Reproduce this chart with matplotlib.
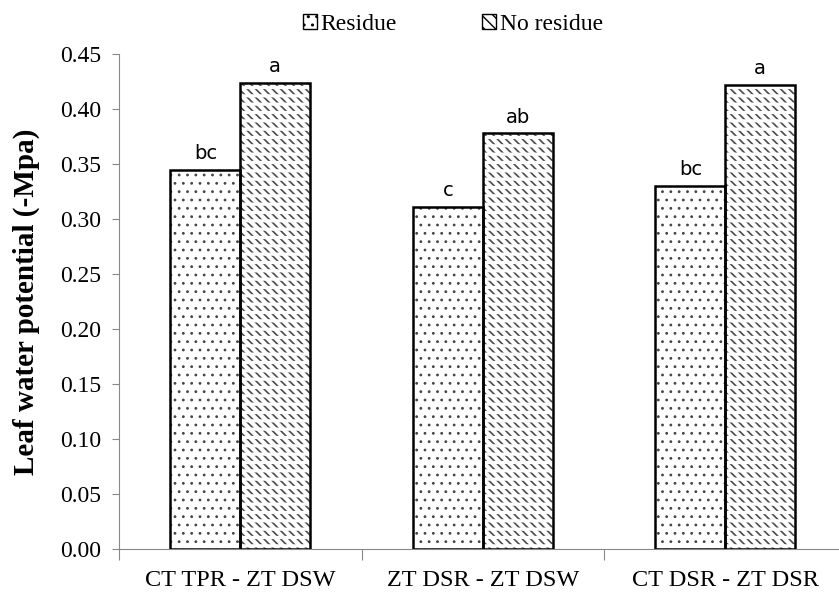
import matplotlib
matplotlib.use("Agg")
import matplotlib.pyplot as plt
import numpy as np
from matplotlib.patches import Patch

categories = ["CT TPR - ZT DSW", "ZT DSR - ZT DSW", "CT DSR - ZT DSR"]
residue = [0.345, 0.311, 0.330]
no_residue = [0.424, 0.378, 0.422]
residue_letters = ["bc", "c", "bc"]
no_residue_letters = ["a", "ab", "a"]
yticks = [0.00, 0.05, 0.10, 0.15, 0.20, 0.25, 0.30, 0.35, 0.40, 0.45]

serif = ["Liberation Serif", "DejaVu Serif"]
sans = ["Liberation Sans Narrow", "DejaVu Sans"]

W, H = 839, 596
fig = plt.figure(figsize=(W / 100, H / 100), dpi=100)
left = 119 / W
right = 846.5 / W
bottom = (H - 549) / H
top = (H - 54.3) / H
ax = fig.add_axes([left, bottom, right - left, top - bottom])

x = np.arange(len(categories))
bw = 0.288


def set_hlw(bars, lw):
    for p in bars:
        if hasattr(p, "set_hatch_linewidth"):
            p.set_hatch_linewidth(lw)


# Residue bars (dotted)
with plt.rc_context({"hatch.linewidth": 0.8}):
    b1 = ax.bar(x - bw / 2, residue, bw, color="white", edgecolor="#444444",
                hatch="..", linewidth=0)
set_hlw(b1, 0.8)
# No residue bars: dense diagonals broken into rows by white horizontal lines
with plt.rc_context({"hatch.linewidth": 1.2}):
    b2 = ax.bar(x + bw / 2, no_residue, bw, color="white", edgecolor="#4a4a4a",
                hatch="\\\\\\\\", linewidth=0)
set_hlw(b2, 1.2)
with plt.rc_context({"hatch.linewidth": 2.3}):
    b3 = ax.bar(x + bw / 2, no_residue, bw, color="none", edgecolor="white",
                hatch="--", linewidth=0)
set_hlw(b3, 2.3)
# outlines
ax.bar(x - bw / 2, residue, bw, fill=False, edgecolor="black", linewidth=1.8)
ax.bar(x + bw / 2, no_residue, bw, fill=False, edgecolor="black", linewidth=1.8)

for xi, v, t in zip(x - bw / 2, residue, residue_letters):
    ax.annotate(t, (xi, v), xytext=(0, 5), textcoords="offset points",
                ha="center", va="bottom", fontsize=14, family=sans)
for xi, v, t in zip(x + bw / 2, no_residue, no_residue_letters):
    ax.annotate(t, (xi, v), xytext=(0, 5), textcoords="offset points",
                ha="center", va="bottom", fontsize=14, family=sans)

ax.set_xlim(-0.5, len(categories) - 0.5)
ax.set_ylim(0, 0.45)
ax.set_yticks(yticks)
ax.set_yticklabels([f"{v:.2f}" for v in yticks], family=serif, fontsize=17)
ax.set_xticks(x)
ax.set_xticklabels(categories, family=serif, fontsize=17.5)
ax.tick_params(axis="x", which="major", length=0, pad=15)
ax.set_xticks(np.arange(-0.5, len(categories), 1.0), minor=True)
ax.tick_params(axis="x", which="minor", length=8, color="#888888", width=0.8)
ax.tick_params(axis="y", length=5, color="#888888", width=0.8, pad=8)

for s in ["top", "right"]:
    ax.spines[s].set_visible(False)
for s in ["left", "bottom"]:
    ax.spines[s].set_color("#888888")
    ax.spines[s].set_linewidth(0.8)

fig.text(26 / W, 1 - 302 / H, "Leaf water potential (-Mpa)", rotation=90,
         ha="center", va="center", family=serif, fontsize=21, fontweight="bold")

handles = [Patch(facecolor="white", edgecolor="black", hatch="..", linewidth=1.0),
           Patch(facecolor="white", edgecolor="black", hatch="\\\\\\", linewidth=1.0)]
leg = fig.legend(handles, ["Residue", "No residue"], loc="center",
                 bbox_to_anchor=(453 / W, 1 - 24 / H), ncol=2, frameon=False,
                 prop={"family": serif, "size": 17}, handlelength=0.6,
                 handleheight=0.6, handletextpad=0.15, columnspacing=3.6)

fig.savefig("out.png", dpi=100)
